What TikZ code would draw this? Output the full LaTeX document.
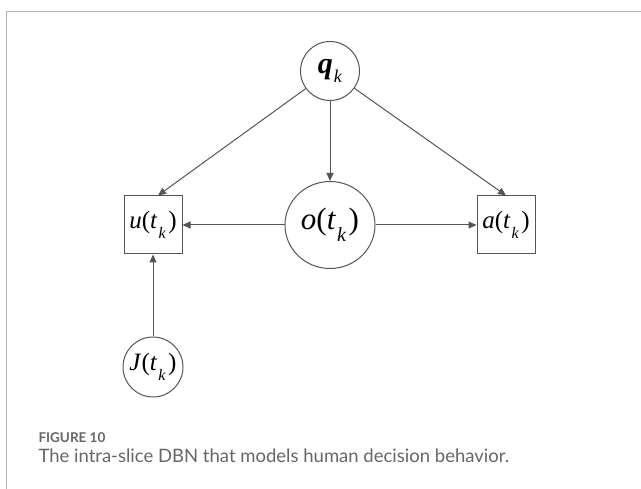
\documentclass[tikz,border=0pt]{standalone}
\usepackage{fontspec}
\setmainfont{Liberation Serif}
\newfontfamily\capfont{Lato}
\usetikzlibrary{arrows.meta, positioning, shapes.geometric}

% t with subscript k, set the way the figure shows it
\newcommand{\tsubk}[1]{\textit{t}\kern1pt\raisebox{-0.4em}{\fontsize{#1}{#1}\selectfont\textit{k}}\kern2.5pt}

\definecolor{linegray}{HTML}{555555}
\definecolor{framegray}{HTML}{B4B4B4}
\definecolor{capgray}{HTML}{666666}

\begin{document}
\begin{tikzpicture}[
    x=1pt, y=-1pt,
    node distance = 80pt,
    var/.style      = {circle, draw=linegray, line width=1pt, inner sep=0pt,
                       font=\fontsize{25}{27}\selectfont},
    obsbox/.style   = {rectangle, draw=linegray, line width=1pt, inner sep=0pt,
                       minimum width=58pt, minimum height=58pt,
                       font=\fontsize{25}{27}\selectfont},
    arrow/.style    = {-{Triangle[length=8pt, width=7pt]}, draw=linegray, line width=1pt},
]
\useasboundingbox (0,0) rectangle (641,489);

% open frame round the figure
\draw[framegray, line width=0.8pt] (641,11) -- (6,11) -- (6,489);

\node[ellipse, draw=linegray, line width=1pt, inner sep=0pt,
      minimum width=90pt, minimum height=87pt,
      font=\fontsize{31}{33}\selectfont]  (obs)  at (330,225) {\textit{o}(\tsubk{20})};
\node[var, minimum size=59pt, above=80pt of obs, font=\fontsize{30}{32}\selectfont]
    (qk) {\textbf{\textit{q}}\kern1pt\raisebox{-0.3em}{\fontsize{18}{18}\selectfont\textit{k}}};
\node[obsbox, left=102pt of obs]                   (util) {\textit{u}(\tsubk{16})};
\node[obsbox, right=101pt of obs]                  (act)  {\textit{a}(\tsubk{16})};
\node[var, minimum size=60pt, below=82pt of util]  (cost) {\hspace*{-8pt}\textit{J}(\tsubk{16})\hspace*{-8pt}};

\draw[arrow] (qk)   -- ([xshift=5pt]util.north);
\draw[arrow] (qk)   -- (obs);
\draw[arrow] (qk)   -- (act.north);
\draw[arrow] (obs)  -- (util);
\draw[arrow] (obs)  -- (act);
\draw[arrow] (cost) -- (util);

% caption
\node[anchor=base west, text=capgray, font=\capfont\bfseries\fontsize{13.5}{15}\selectfont]
    (capnum) at (35,443) {FIGURE 10};
\node[anchor=base west, text=capgray, font=\capfont\fontsize{18.5}{20}\selectfont]
    (captext) at (35,463) {The intra-slice DBN that models human decision behavior.};

\end{tikzpicture}
\end{document}
